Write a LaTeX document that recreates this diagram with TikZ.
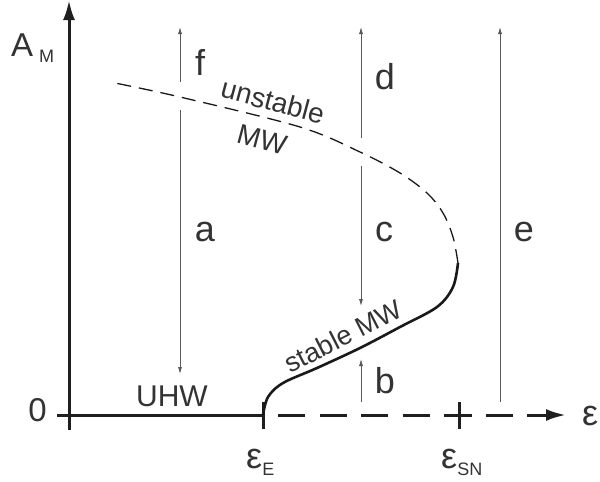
\documentclass[tikz,border=0pt]{standalone}
\usepackage{fontspec}
\setmainfont{Liberation Sans}
\usetikzlibrary{arrows.meta}
\begin{document}
\begin{tikzpicture}[x=1pt,y=-1pt,
  axis/.style={line width=3pt, color=black!88},
  bigtip/.style={-{Latex[length=20pt,width=12pt]}},
  thinarrow/.style={line width=0.8pt, color=black!65, -{Latex[length=7pt,width=4pt]}},
  lbl/.style={font=\fontsize{36}{36}\selectfont, text=black!80, inner sep=0pt},
  curvelbl/.style={font=\fontsize{28}{28}\selectfont, text=black!80, inner sep=0pt},
  stablecurve/.style={line width=2.6pt, color=black!90},
  unstablecurve/.style={line width=1.3pt, color=black!90, dash pattern=on 14pt off 8pt}]
\useasboundingbox (0,0) rectangle (600,482);
% axes coordinates
\coordinate (ybot) at (69,430);
\coordinate (ytop) at (69,0);
\coordinate (xleft) at (57,415);
\coordinate (eE) at (263,415);
\coordinate (dstart) at (278,415);
\coordinate (xtip) at (566,415);
\coordinate (eEt) at (263,402);
\coordinate (eEb) at (263,429);
\coordinate (eSNt) at (459,402);
\coordinate (eSNb) at (459,429);
\coordinate (eSNl) at (445,415);
\coordinate (eSNr) at (472,415);
% axes
\draw[axis, bigtip] (ybot) -- (ytop);
\draw[axis] (xleft) -- (eE);
\draw[axis, dash pattern=on 27pt off 14.5pt] (dstart) -- (545,415);
\draw[axis, -{Latex[length=20pt,width=12pt]}] (544,415) -- (xtip);
\draw[axis] (eEt) -- (eEb);
\draw[axis] (eSNt) -- (eSNb);
\draw[axis] (eSNl) -- (eSNr);
% curves
\draw[stablecurve] plot[smooth, tension=0.55] coordinates {(263,415) (268,397) (283,383) (317,368) (360,348) (400,327) (437,307) (453,287) (458,263)};
\draw[unstablecurve] plot[smooth, tension=0.55] coordinates {(458,263) (453,237) (443,213) (427,193) (400,173) (360,152) (300,127) (180,97) (110,82)};
% thin arrows
\coordinate (fS) at (180,82);  \coordinate (fE) at (180,27);
\coordinate (aS) at (180,110); \coordinate (aE) at (180,374);
\coordinate (dS) at (361,138); \coordinate (dE) at (361,27);
\coordinate (cS) at (361,166); \coordinate (cE) at (361,306);
\coordinate (bS) at (361,402); \coordinate (bE) at (361,359);
\coordinate (eS) at (500,402); \coordinate (eE2) at (500,27);
\draw[thinarrow] (fS) -- (fE);
\draw[thinarrow] (aS) -- (aE);
\draw[thinarrow] (dS) -- (dE);
\draw[thinarrow] (cS) -- (cE);
\draw[thinarrow] (bS) -- (bE);
\draw[thinarrow] (eS) -- (eE2);
% labels
\node[lbl] (lf) at (200,62) {f};
\node[lbl] (la) at (205,232) {a};
\node[lbl] (ld) at (385,77) {d};
\node[lbl] (lc) at (384,232) {c};
\node[lbl] (lb) at (385,381) {b};
\node[lbl] (le) at (524,232) {e};
\node[lbl, font=\fontsize{33}{33}\selectfont] (zero) at (37.5,410) {0};
\node[lbl, font=\fontsize{30}{30}\selectfont] (uhw) at (172,396) {UHW};
\node[curvelbl, rotate=-15] (unst) at (273,101) {unstable};
\node[curvelbl, rotate=-15] (mw) at (262,140) {MW};
\node[curvelbl, font=\fontsize{27}{27}\selectfont, rotate=27] (stab) at (343,336) {stable MW};
\node[lbl, font=\fontsize{33}{33}\selectfont, anchor=base west] (AM) at (11,56) {A\hspace{6pt}\raisebox{-6pt}{\fontsize{18}{18}\selectfont M}};
\node[lbl, anchor=base west] (epsE) at (246,468) {ε\raisebox{-7pt}{\fontsize{18}{18}\selectfont E}};
\node[lbl, anchor=base west] (epsSN) at (441,468) {ε\raisebox{-7pt}{\fontsize{18}{18}\selectfont SN}};
\node[lbl, anchor=base west] (epsx) at (582,425) {ε};
\end{tikzpicture}
\end{document}
